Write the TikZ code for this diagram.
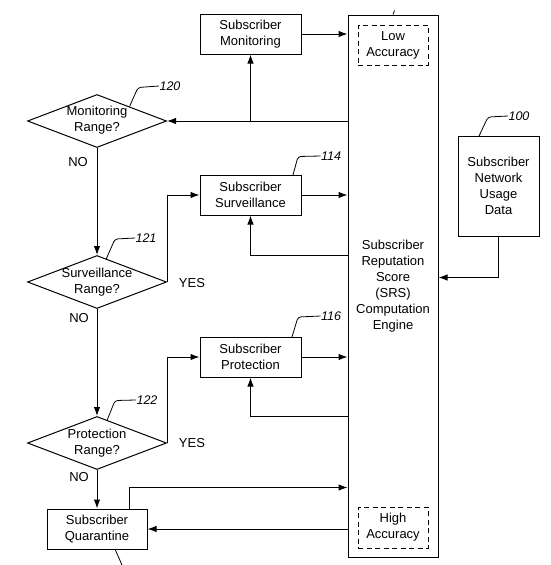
\documentclass[tikz,border=0pt]{standalone}
\usepackage{fontspec}
\setmainfont{Liberation Sans}
\usetikzlibrary{arrows.meta,shapes.geometric}
\begin{document}
\begin{tikzpicture}[x=1pt,y=-1pt,
  font=\fontsize{13}{16}\selectfont,
  every path/.style={line width=1pt},
  arr/.style={-{Latex[length=9pt,width=6.5pt]}},
  blk/.style={draw,rectangle,align=center,inner sep=0pt},
  dbox/.style={draw,dashed,dash pattern=on 5pt off 3.5pt,rectangle,align=center,inner sep=0pt,minimum width=70pt,minimum height=40pt},
  dec/.style={draw,diamond,aspect=2.62,inner sep=0pt,minimum width=139pt,minimum height=53pt},
  reflab/.style={font=\fontsize{12.5}{14}\selectfont\itshape,inner sep=0pt},
  yn/.style={inner sep=0pt}]
\useasboundingbox (0,0) rectangle (550,565);

% main blocks
\node[blk,minimum width=90pt,minimum height=542pt] (eng) at (393,286) {Subscriber\\Reputation\\Score\\(SRS)\\Computation\\Engine};
\node[dbox] (low) at (393,45) {Low\\Accuracy};
\node[dbox,minimum height=41pt] (high) at (393,527.5) {High\\Accuracy};
\node[blk,minimum width=101pt,minimum height=40pt] (mon) at (250.5,34) {Subscriber\\Monitoring};
\node[blk,minimum width=101pt,minimum height=40pt] (surv) at (250.5,195) {Subscriber\\Surveillance};
\node[blk,minimum width=101pt,minimum height=40pt] (prot) at (250.5,357) {Subscriber\\Protection};
\node[blk,minimum width=100pt,minimum height=40pt] (quar) at (97,529) {Subscriber\\Quarantine};
\node[blk,minimum width=81pt,minimum height=100pt] (data) at (498.5,186) {Subscriber\\Network\\Usage\\Data};

% decisions
\node[dec,label={[align=center,yshift=0.5pt]center:Monitoring\\Range?}] (d1) at (97,121) {};
\node[dec,label={[align=center]center:Surveillance\\Range?}] (d2) at (97,282) {};
\node[dec,label={[align=center]center:Protection\\Range?}] (d3) at (97,443) {};

% YES / NO labels
\node[yn] (no1) at (78,162) {NO};
\node[yn] (no2) at (79,318) {NO};
\node[yn] (no3) at (79,477) {NO};
\node[yn] (yes2) at (192,283) {YES};
\node[yn] (yes3) at (192,443) {YES};

% reference numerals
\node[reflab] (r120) at (170,86) {120};
\node[reflab] (r121) at (146,238) {121};
\node[reflab] (r122) at (147,400) {122};
\node[reflab] (r114) at (331,156) {114};
\node[reflab] (r116) at (331,316) {116};
\node[reflab] (r100) at (519,116) {100};

% leader lines
\draw[line width=0.8pt,rounded corners=3pt] (129.5,106.5) -- (138,87.5) -- (r120.west);
\draw[line width=0.8pt,rounded corners=3pt] (106,259.5) -- (115,239) -- (r121.west);
\draw[line width=0.8pt,rounded corners=3pt] (107,420.5) -- (115,400.5) -- (r122.west);
\draw[line width=0.8pt,rounded corners=3pt] (293,175) -- (298,156.5) -- (r114.west);
\draw[line width=0.8pt,rounded corners=3pt] (292,337) -- (298,317) -- (r116.west);
\draw[line width=0.8pt,rounded corners=3pt] (479,136) -- (488,117) -- (r100.west);
\draw[line width=0.8pt] (eng.north) -- ++(1.5,-4);
\draw[line width=0.8pt] (115,549) -- (122,565);

% connectors
\draw[arr] (mon.east) -- (mon.east -| eng.west);
\draw[arr] (eng.west |- d1.east) -- (d1.east);
\draw[arr] (mon.south |- d1.east) -- (mon.south);
\draw[arr] (d1.south) -- (d2.north);
\draw[arr] (d2.east) -- (d2.east |- surv.west) -- (surv.west);
\draw[arr] (surv.east) -- (surv.east -| eng.west);
\draw[arr] (eng.west |- d2.north) -- (surv.south |- d2.north) -- (surv.south);
\draw[arr] (d2.south) -- (d3.north);
\draw[arr] (d3.east) -- (d3.east |- prot.west) -- (prot.west);
\draw[arr] (prot.east) -- (prot.east -| eng.west);
\draw[arr] (eng.west |- d3.north) -- (prot.south |- d3.north) -- (prot.south);
\draw[arr] (d3.south) -- (quar.north);
\coordinate (qt) at ([xshift=-18pt]quar.north east);
\coordinate (qr) at ([yshift=21pt]qt);
\draw[arr] (qt) -- (qr) -- (qr -| eng.west);
\draw[arr] (eng.west |- quar.east) -- (quar.east);
\coordinate (dj) at ([yshift=-41pt]data.south);
\draw[arr] (data.south) -- (dj) -- (dj -| eng.east);
\end{tikzpicture}
\end{document}
